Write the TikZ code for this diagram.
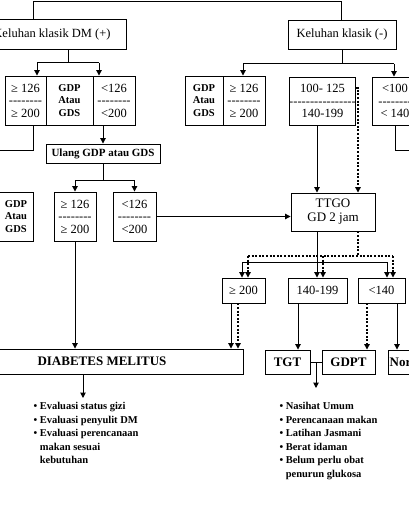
\documentclass[tikz,border=0pt]{standalone}
\usepackage{fontspec}
\setmainfont{Liberation Serif}
\usetikzlibrary{arrows.meta, positioning}
\newcommand{\dashrow}{-{}-{}-{}-{}-{}-{}-{}-}

\begin{document}
\begin{tikzpicture}[x=1pt, y=-1pt, >={Triangle[length=5.5pt, width=5.5pt]}, line width=1pt]
    \tikzset{
        box/.style={draw, line width=0.9pt, align=center, inner sep=0pt, font=\fontsize{12.5}{12.5}\selectfont},
        bbox/.style={box, font=\bfseries\fontsize{13}{13}\selectfont},
        cell/.style={box, minimum height=49pt},
        bcell/.style={cell, font=\bfseries\fontsize{10.5}{12.5}\selectfont},
        dsh/.style={dash pattern=on 2pt off 1.6pt, line width=1.2pt},
        bul/.style={align=left, anchor=north west, inner sep=0pt, font=\bfseries\fontsize{10.5}{13.5}\selectfont}
    }
    \useasboundingbox (0,0) rectangle (408,508);

    % first level
    \node[box, minimum width=148pt, minimum height=30pt] (kplus) at (52,34) {Keluhan klasik DM (+)};
    \node[box, minimum width=108pt, minimum height=29pt] (kmin) at (342,34.5) {Keluhan klasik (-)};

    % left triple box
    \node[cell, minimum width=41pt] (a1) at (25.5,100.5) {≥ 126\\\dashrow\\≥ 200};
    \node[bcell, minimum width=47pt] (a2) at (69.5,100.5) {GDP\\Atau\\GDS};
    \node[cell, minimum width=42pt] (a3) at (114,100.5) {<126\\\dashrow\\<200};

    % right side boxes
    \node[bcell, minimum width=38pt] (c1) at (204,100.5) {GDP\\Atau\\GDS};
    \node[cell, minimum width=42pt] (c2) at (244,100.5) {≥ 126\\\dashrow\\≥ 200};
    \node[cell, minimum width=63pt, minimum height=48pt] (d1) at (322.5,101) {100- 125\\\dashrow{}\dashrow\\140-199};
    \node[cell, minimum width=46pt, minimum height=48pt] (d2) at (395,101) {<100\\\dashrow\\< 140};

    \node[box, font=\bfseries\fontsize{11}{12.5}\selectfont, minimum width=114pt, minimum height=19pt] (ulang) at (103,153.5) {Ulang GDP atau GDS};

    % second level
    \node[bcell, minimum width=34pt] (b0) at (16,216.5) {GDP\\Atau\\GDS};
    \node[cell, minimum width=42pt] (b1) at (75,216.5) {≥ 126\\\dashrow\\≥ 200};
    \node[cell, minimum width=43pt] (b2) at (134.5,216.5) {<126\\\dashrow\\<200};
    \node[box, font=\fontsize{13}{14}\selectfont, minimum width=84pt, minimum height=38pt] (ttgo) at (333,212) {TTGO\\GD 2 jam};

    % third level
    \node[box, minimum width=43pt, minimum height=25pt] (e1) at (243.5,290.5) {≥ 200};
    \node[box, minimum width=59pt, minimum height=25pt] (e2) at (317.5,290.5) {140-199};
    \node[box, minimum width=47pt, minimum height=25pt] (e3) at (381.5,290.5) {<140};

    % results
    \node[bbox, minimum width=282pt, minimum height=25pt] (dm) at (102,361.5) {DIABETES MELITUS};
    \node[bbox, minimum width=45pt, minimum height=24pt] (tgt) at (287.5,362) {TGT};
    \node[bbox, minimum width=53pt, minimum height=24pt] (gdpt) at (348.5,362) {GDPT};
    \node[bbox, minimum width=45pt, minimum height=24pt] (normal) at (411,362) {Normal};

    % lists
    \node[bul] (evl) at (33,402) {\textbullet\ Evaluasi status gizi\\\textbullet\ Evaluasi penyulit DM\\\textbullet\ Evaluasi perencanaan\\\phantom{\textbullet\ }makan sesuai\\\phantom{\textbullet\ }kebutuhan};
    \node[bul] (nas) at (279,402) {\textbullet\ Nasihat Umum\\\textbullet\ Perencanaan makan\\\textbullet\ Latihan Jasmani\\\textbullet\ Berat idaman\\\textbullet\ Belum perlu obat\\\phantom{\textbullet\ }penurun glukosa};

    % helper points
    \coordinate (tl) at (33,2);
    \coordinate (tr) at (341,2);
    \coordinate (kpm) at (68,63);
    \coordinate (kpl) at (37,63);
    \coordinate (kpr) at (99,63);
    \coordinate (aturn) at (33,150);
    \coordinate (aout) at (-5,150);
    \coordinate (ub) at (103,180);
    \coordinate (dmout) at (83,398);
    \coordinate (km) at (342,64);
    \coordinate (kml) at (243,64);
    \coordinate (kmr) at (394,64);
    \coordinate (dturn) at (395,150);
    \coordinate (dout) at (415,150);
    \coordinate (sx) at (317,0);
    \coordinate (dd) at (358,88);
    \coordinate (sl) at (242,262);
    \coordinate (sr) at (387,262);
    \coordinate (dmid) at (358,256);
    \coordinate (dl) at (248,256);
    \coordinate (dc) at (323,256);
    \coordinate (dr) at (393,256);
    \coordinate (e1s) at (231,0);
    \coordinate (e1d) at (238,0);
    \coordinate (e2s) at (298,0);
    \coordinate (e3d) at (367,0);
    \coordinate (e3s) at (397,0);
    \coordinate (tgout) at (316,388);

    % connectors, left half
    \draw (kplus.north -| tl) -- (tl) -- (tr) -- (kmin.north -| tr);
    \draw (kplus.south -| kpm) -- (kpm);
    \draw (kpl) -- (kpr);
    \draw[->] (kpl) -- (kpl |- a1.north);
    \draw[->] (kpr) -- (kpr |- a3.north);
    \draw (a1.south -| aturn) -- (aturn) -- (aout);
    \draw[->] (a3.south -| ulang.north) -- (ulang.north);
    \draw (ulang.south) -- (ub);
    \draw[->] (ub) -| (b1.north);
    \draw[->] (ub) -| (b2.north);
    \draw[->] (b2.east) -- (b2.east -| ttgo.west);
    \draw[->] (b1.south) -- (b1.south |- dm.north);
    \draw[->] (dm.south -| dmout) -- (dmout);

    % connectors, right half
    \draw (kmin.south) -- (km);
    \draw (kml) -- (kmr);
    \draw[->] (kml) -- (kml |- c2.north);
    \draw[->] (kmr) -- (kmr |- d2.north);
    \draw (d2.south -| dturn) -- (dturn) -- (dout);
    \draw[->] (d1.south -| sx) -- (ttgo.north -| sx);
    \draw[dsh, ->] (d1.east |- dd) -- (dd) -- (dd |- ttgo.north);
    \draw[->] (ttgo.south -| sx) -- (e2.north -| sx);
    \draw (sl) -- (sr);
    \draw[->] (sl) -- (sl |- e1.north);
    \draw[->] (sr) -- (sr |- e3.north);
    \draw[dsh] (ttgo.south -| dmid) -- (dmid);
    \draw[dsh] (dl) -- (dr);
    \draw[dsh, ->] (dl) -- (dl |- e1.north);
    \draw[dsh, ->] (dc) -- (dc |- e2.north);
    \draw[dsh, ->] (dr) -- (dr |- e3.north);
    \draw[->] (e1.south -| e1s) -- (dm.north -| e1s);
    \draw[dsh, ->] (e1.south -| e1d) -- (dm.north -| e1d);
    \draw[->] (e2.south -| e2s) -- (tgt.north -| e2s);
    \draw[dsh, ->] (e3.south -| e3d) -- (gdpt.north -| e3d);
    \draw[->] (e3.south -| e3s) -- (normal.north -| e3s);
    \draw (tgt.east) -- (gdpt.west);
    \draw[->] (tgt.east -| tgout) -- (tgout);
\end{tikzpicture}
\end{document}
